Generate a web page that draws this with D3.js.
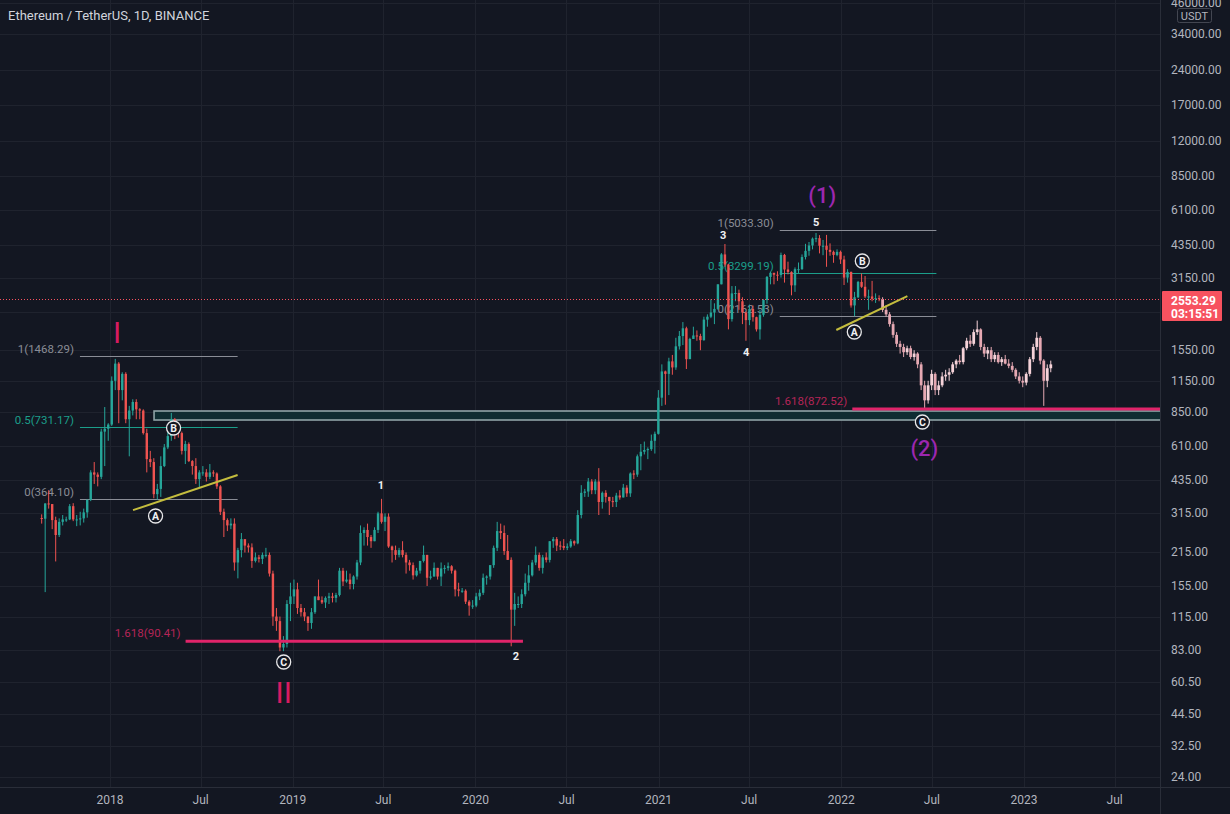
<!DOCTYPE html>
<html><head><meta charset="utf-8">
<script src="https://cdn.jsdelivr.net/npm/d3@7"></script>
<style>html,body{margin:0;padding:0;background:#131722;overflow:hidden}</style>
</head><body><svg id="c" width="1230" height="814"></svg>
<script>
// ---------------- DATA ----------------
// Weekly candles ETH/USDT (Binance). Each entry: [high, low, close]; open = previous close.
const firstWeek = "2017-08-14";
const firstOpen = 301.13;
const weeks2017 = [
 [312,285,299],[348,146,347],[395,330,345],[345,270,295],[305,197,255],[300,250,290],[310,280,297],
 [305,290,297],[345,295,338],[348,292,297],[310,278,297],[320,280,300],[330,288,318],[360,302,360],
 [480,355,470],[520,420,460],[470,410,450],[720,440,700],[890,500,720],[760,640,750]
];
const weeks2018 = [
 [1200,740,1150],[1424,1050,1360],[1380,760,1050],[1250,950,1230],[1250,760,790],
 [900,550,860],[960,820,935],[960,790,870],[880,790,860],
 [870,680,690],[720,470,535],[580,495,520],[540,365,380],
 [420,360,400],[550,370,500],[620,495,600],[710,590,670],[840,640,790],
 [800,650,730],[740,660,690],[700,560,580],[640,510,620],
 [630,520,525],[530,460,500],[540,420,440],[480,405,470],
 [500,455,470],[485,430,450],[510,440,470],[480,450,465],[470,400,410],
 [415,310,320],[330,250,295],[300,265,280],[300,270,285],
 [300,180,195],[225,167,220],[260,205,245],[240,215,230],
 [235,215,226],[235,185,198],[215,195,205],[210,195,202],[215,192,210],
 [225,205,210],[215,170,175],[180,105,115],[125,100,110],
 [115,82,85],[95,82,88],[135,85,130],[160,110,140]
];
const weeks2019 = [
 [165,130,150],[160,118,125],[130,115,120],[125,110,115],[115,100,108],
 [125,102,120],[140,118,140],[165,135,135],[140,130,132],
 [140,125,138],[145,130,140],[145,132,138],[145,132,142],
 [185,140,180],[185,155,162],[180,160,165],[175,150,158],[172,150,170],
 [200,165,195],[280,190,260],[275,230,268],[285,230,250],
 [255,225,240],[275,240,268],[320,260,315],[363,285,290],
 [315,265,305],[315,225,228],[230,195,220],[230,200,210],[225,205,220],
 [240,205,210],[215,175,195],[200,180,190],[195,165,172],
 [185,170,180],[198,175,198],[230,195,210],[210,155,168],[180,165,170],
 [195,170,185],[185,165,170],[195,155,184],[190,175,185],
 [195,180,188],[190,175,180],[182,140,150],[160,140,148],
 [152,145,148],[150,130,133],[135,116,128],[135,124,128]
];
const weeks2020 = [
 [145,126,140],[150,135,145],[175,142,168],[172,157,170],[190,165,190],
 [230,185,225],[290,218,265],[285,245,260],[280,210,218],
 [255,200,200],[205,86,123],[145,105,130],[140,125,130],[150,125,143],
 [175,140,160],[190,148,172],[200,170,195],[228,190,210],
 [215,180,185],[210,175,205],[215,195,200],[240,195,240],
 [250,225,245],[250,218,230],[240,220,229],[245,220,225],[235,220,228],
 [245,225,240],[242,230,235],[325,233,310],[415,300,385],
 [400,370,390],[445,370,430],[440,380,395],[440,380,430],[490,310,352],
 [390,330,385],[395,350,370],[370,310,355],[370,335,352],
 [385,335,375],[395,360,368],[420,368,405],[415,370,383],
 [470,370,465],[480,440,460],[560,450,550],[620,480,575],[635,560,585],
 [600,535,590],[680,580,640],[700,565,685]
];
const weeks2021 = [
 [1050,680,975],[1350,900,1260],[1270,910,1230],[1440,1000,1390],[1480,1220,1310],
 [1750,1280,1610],[1870,1560,1780],[2040,1630,1920],[1950,1290,1420],
 [1750,1430,1730],[1950,1730,1790],[1880,1700,1780],[1820,1550,1710],[2150,1700,2090],
 [2200,1950,2150],[2550,2120,2240],[2450,2000,2320],[2950,2300,2950],
 [4000,2950,3950],[4372,3500,3580],[3600,1900,2100],[2900,2050,2700],[2900,2500,2710],
 [2800,2300,2500],[2600,2000,2240],[2260,1700,2080],[2420,1980,2320],
 [2400,2050,2140],[2150,1860,1900],[2300,1720,2190],[2550,2150,2530],
 [3200,2440,3170],[3330,2950,3300],[3300,2950,3240],[3350,3050,3230],[4020,3150,3930],
 [3970,3000,3410],[3680,3250,3330],[3350,2650,2920],[3480,2740,3420],
 [3650,3280,3420],[3950,3400,3850],[4380,3760,4090],[4460,3900,4310],
 [4660,4150,4610],[4868,4450,4630],[4770,3990,4300],[4550,3920,4300],[4780,3500,4130],
 [4400,3900,4050],[4100,3640,3930],[4150,3880,4050]
];
const weeks2022 = [
 [4100,3600,3760],[3900,2930,3150],[3420,3000,3330],[3340,2350,2400],[2740,2160,2600],
 [3050,2580,3020],[3280,2850,2880],[3200,2580,2620],[2800,2300,2620],
 [3050,2500,2560],[2700,2460,2580],[2650,2500,2553.29]
];
// Projected "bars pattern" (pale bars), weekly from ghostStart: [high, low, close]
const ghostStart = "2022-03-21";
const ghostBars = [
 [2600,2250,2300],[2400,2150,2200],[2250,1950,2000],[2050,1750,1800],[1850,1600,1650],
 [1700,1500,1600],[1650,1450,1520],[1620,1480,1580],[1620,1420,1450],[1550,1400,1500],
 [1520,1300,1350],[1380,1050,1100],[1150,880,950],[1150,920,1100],[1280,1050,1230],
 [1250,1000,1050],[1150,1000,1100],[1250,1080,1200],[1280,1150,1220],[1300,1150,1250],
 [1380,1230,1350],[1420,1300,1400],[1480,1350,1380],[1600,1350,1580],[1750,1550,1700],
 [1800,1600,1650],[1900,1620,1850],[2070,1800,1900],[1920,1550,1600],[1650,1450,1500],
 [1600,1420,1550],[1600,1380,1420],[1520,1380,1480],[1520,1360,1380],[1450,1330,1420],
 [1480,1350,1360],[1420,1300,1330],[1380,1250,1280],[1300,1170,1200],[1250,1120,1150],
 [1200,1080,1130],[1250,1100,1230],[1450,1200,1420],[1650,1380,1600],[1850,1550,1750],
 [1780,1350,1400],[1420,900,1150],[1350,1080,1300],[1400,1250,1350]
];
const gridPrices = [46000,34000,24000,17000,12000,8500,6100,4350,3150,2250,1550,1150,850,610,435,315,215,155,115,83,60.5,44.5,32.5,24];
const priceLabels = [46000,34000,24000,17000,12000,8500,6100,4350,3150,1550,1150,850,610,435,315,215,155,115,83,60.5,44.5,32.5,24];
const timeTicks = ["2018-01-01","2018-07-01","2019-01-01","2019-07-01","2020-01-01","2020-07-01","2021-01-01","2021-07-01","2022-01-01","2022-07-01","2023-01-01","2023-07-01"];
const lastPrice = 2553.29;
const countdown = "03:15:51";
const title = "Ethereum / TetherUS, 1D, BINANCE";
const currency = "USDT";

const fibLevels = [
 {text:"1(1468.29)", price:1468.29, from:"2017-11-02", to:"2018-09-13", kind:"gray"},
 {text:"0.5(731.17)", price:731.17, from:"2017-11-02", to:"2018-09-13", kind:"teal"},
 {text:"0(364.10)", price:364.10, from:"2017-11-02", to:"2018-09-13", kind:"gray"},
 {text:"1(5033.30)", price:5033.30, from:"2021-08-31", to:"2022-07-10", kind:"gray"},
 {text:"0.5(3299.19)", price:3299.19, from:"2021-08-31", to:"2022-07-10", kind:"teal"},
 {text:"0(2162.53)", price:2162.53, from:"2021-08-31", to:"2022-07-10", kind:"gray"}
];
const extLevels = [
 {text:"1.618(90.41)", price:90.41, from:"2018-06-01", to:"2020-04-05"},
 {text:"1.618(872.52)", price:872.52, from:"2022-01-23", to:null}
];
const zoneBox = {from:"2018-03-30", top:856, bottom:784};
const trendLines = [
 {d1:"2018-02-16", p1:325, d2:"2018-09-13", p2:458},
 {d1:"2021-12-22", p1:1888, d2:"2022-05-13", p2:2631}
];
const circleLabels = [
 {t:"A", d:"2018-04-02", p:307}, {t:"B", d:"2018-05-08", p:725}, {t:"C", d:"2018-12-14", p:73.8},
 {t:"A", d:"2022-01-27", p:1852}, {t:"B", d:"2022-02-12", p:3704}, {t:"C", d:"2022-06-12", p:769}
];
const waveNumbers = [
 {t:"1", d:"2019-06-26", p:415}, {t:"2", d:"2020-03-22", p:78.2}, {t:"3", d:"2021-05-10", p:4780},
 {t:"4", d:"2021-06-25", p:1522}, {t:"5", d:"2021-11-12", p:5422}
];
const romanLabels = [ {t:"I", d:"2018-01-15", p:1852}, {t:"II", d:"2018-12-14", p:55} ];
const degreeLabels = [ {t:"(1)", d:"2021-11-24", p:7060}, {t:"(2)", d:"2022-06-16", p:596} ];

// ---------------- CHART ----------------
const W = 1230, H = 814, plotR = 1160, plotB = 787;
const svg = d3.select("#c");
const parse = s => new Date(s + "T00:00:00Z");
const x = d3.scaleUtc().domain([parse("2018-01-01"), parse("2023-01-01")]).range([110, 1024]);
const y = d3.scaleLog().domain([24, 34000]).range([777, 34]);
const DAY = 864e5;

function build(list, start, open0) {
  const out = []; let o = open0; const t0 = parse(start).getTime();
  list.forEach((r, i) => { out.push({t: new Date(t0 + (i * 7 + 3.5) * DAY), o, h: r[0], l: r[1], c: r[2]}); o = r[2]; });
  return out;
}
const real = build([].concat(weeks2017, weeks2018, weeks2019, weeks2020, weeks2021, weeks2022), firstWeek, firstOpen);
const ghost = build(ghostBars, ghostStart, lastPrice);

svg.append("rect").attr("width", W).attr("height", H).attr("fill", "#131722");
svg.append("defs").append("clipPath").attr("id", "clip").append("rect").attr("width", plotR).attr("height", plotB);
const plot = svg.append("g").attr("clip-path", "url(#clip)");

// grid
plot.selectAll(".hg").data(gridPrices).join("line")
  .attr("x1", 0).attr("x2", plotR).attr("y1", d => Math.round(y(d)) + 0.5).attr("y2", d => Math.round(y(d)) + 0.5)
  .attr("stroke", "#1f232e").attr("stroke-width", 1);
plot.selectAll(".vg").data(timeTicks).join("line")
  .attr("y1", 0).attr("y2", plotB).attr("x1", d => Math.round(x(parse(d))) + 0.5).attr("x2", d => Math.round(x(parse(d))) + 0.5)
  .attr("stroke", "#1f232e").attr("stroke-width", 1);

const font = "Roboto, 'Liberation Sans', sans-serif";

// zone box
plot.append("rect").attr("x", x(parse(zoneBox.from))).attr("y", y(zoneBox.top))
  .attr("width", plotR + 10 - x(parse(zoneBox.from))).attr("height", y(zoneBox.bottom) - y(zoneBox.top))
  .attr("fill", "#0f2c31").attr("stroke", "#8fa3a6").attr("stroke-width", 1.6);

// fib levels
const fibColor = {gray: "#8a8d96", teal: "#1b9e8a"};
fibLevels.forEach(f => {
  const yy = Math.round(y(f.price)) + 0.5;
  plot.append("line").attr("x1", x(parse(f.from))).attr("x2", x(parse(f.to))).attr("y1", yy).attr("y2", yy)
    .attr("stroke", fibColor[f.kind]).attr("stroke-width", 1);
  plot.append("text").attr("x", x(parse(f.from)) - 6).attr("y", yy - 4).attr("text-anchor", "end")
    .attr("font-family", font).attr("font-size", 11.5).attr("fill", fibColor[f.kind]).text(f.text);
});

// candles
function drawCandles(data, upC, dnC, bw) {
  const g = plot.append("g");
  g.selectAll("line").data(data).join("line")
    .attr("x1", d => x(d.t)).attr("x2", d => x(d.t)).attr("y1", d => y(d.h)).attr("y2", d => y(d.l))
    .attr("stroke", d => d.c >= d.o ? upC : dnC).attr("stroke-width", 1);
  g.selectAll("rect").data(data).join("rect")
    .attr("x", d => x(d.t) - bw / 2).attr("width", bw)
    .attr("y", d => y(Math.max(d.o, d.c))).attr("height", d => Math.max(1, Math.abs(y(d.o) - y(d.c))))
    .attr("fill", d => d.c >= d.o ? upC : dnC);
}
drawCandles(real, "#26a69a", "#ef5350", 2.4);
drawCandles(ghost, "#f6d3d9", "#e6a9b3", 2.8);

// extension (1.618) levels
extLevels.forEach(f => {
  const yy = y(f.price);
  const x2 = f.to ? x(parse(f.to)) : plotR;
  plot.append("line").attr("x1", x(parse(f.from))).attr("x2", x2).attr("y1", yy).attr("y2", yy)
    .attr("stroke", "#e0246a").attr("stroke-width", 3);
  plot.append("text").attr("x", x(parse(f.from)) - 5).attr("y", yy - 4).attr("text-anchor", "end")
    .attr("font-family", font).attr("font-size", 11.5).attr("fill", "#b52557").text(f.text);
});

// trend lines
trendLines.forEach(t => {
  plot.append("line").attr("x1", x(parse(t.d1))).attr("y1", y(t.p1)).attr("x2", x(parse(t.d2))).attr("y2", y(t.p2))
    .attr("stroke", "#c4bd3e").attr("stroke-width", 2);
});

// last price line
plot.append("line").attr("x1", 0).attr("x2", plotR).attr("y1", Math.round(y(lastPrice)) + 0.5).attr("y2", Math.round(y(lastPrice)) + 0.5)
  .attr("stroke", "#f7525f").attr("stroke-width", 1).attr("stroke-dasharray", "1,2");

// circle labels
circleLabels.forEach(c => {
  const g = plot.append("g").attr("transform", `translate(${x(parse(c.d))},${y(c.p)})`);
  g.append("circle").attr("r", 7).attr("fill", "#131722").attr("stroke", "#e8e8ea").attr("stroke-width", 1.3);
  g.append("text").attr("text-anchor", "middle").attr("dy", 3.8).attr("font-family", font).attr("font-weight", "bold")
    .attr("font-size", 10.5).attr("fill", "#f0f0f2").text(c.t);
});
waveNumbers.forEach(c => {
  plot.append("text").attr("x", x(parse(c.d))).attr("y", y(c.p) + 4).attr("text-anchor", "middle")
    .attr("font-family", font).attr("font-weight", "bold").attr("font-size", 11).attr("fill", "#f0f0f2").text(c.t);
});
romanLabels.forEach(c => {
  plot.append("text").attr("x", x(parse(c.d))).attr("y", y(c.p) + 11).attr("text-anchor", "middle")
    .attr("font-family", font).attr("font-size", 30).attr("fill", "#d81b60").text(c.t);
});
degreeLabels.forEach(c => {
  plot.append("text").attr("x", x(parse(c.d))).attr("y", y(c.p) + 8).attr("text-anchor", "middle")
    .attr("font-family", font).attr("font-weight", "500").attr("font-size", 22).attr("fill", "#9c27b0").text(c.t);
});

// axes frame
svg.append("line").attr("x1", plotR + 0.5).attr("x2", plotR + 0.5).attr("y1", 0).attr("y2", H).attr("stroke", "#2a2e39");
svg.append("line").attr("x1", 0).attr("x2", W).attr("y1", plotB + 0.5).attr("y2", plotB + 0.5).attr("stroke", "#2a2e39");

// price axis labels
svg.selectAll(".pl").data(priceLabels).join("text")
  .attr("x", 1171).attr("y", d => y(d) + 4).attr("font-family", font).attr("font-size", 12).attr("fill", "#b2b5be")
  .text(d => d3.format(".2f")(d));
// USDT box
svg.append("rect").attr("x", 1177.5).attr("y", 8.5).attr("width", 34).attr("height", 14).attr("fill", "#131722")
  .attr("stroke", "#434651").attr("rx", 2);
svg.append("text").attr("x", 1194.5).attr("y", 19.5).attr("text-anchor", "middle").attr("font-family", font)
  .attr("font-size", 11).attr("fill", "#b2b5be").text(currency);
// last price box
const ly = y(lastPrice);
svg.append("rect").attr("x", 1162).attr("y", ly - 8).attr("width", 60).attr("height", 30).attr("fill", "#f7525f").attr("rx", 1);
svg.append("text").attr("x", 1171).attr("y", ly + 6).attr("font-family", font).attr("font-weight", "bold")
  .attr("font-size", 12).attr("fill", "#ffffff").text(d3.format(".2f")(lastPrice));
svg.append("text").attr("x", 1171).attr("y", ly + 19).attr("font-family", font).attr("font-weight", "bold")
  .attr("font-size", 12).attr("fill", "#ffffff").text(countdown);

// time axis labels
svg.selectAll(".tl").data(timeTicks).join("text")
  .attr("x", d => x(parse(d))).attr("y", 804).attr("text-anchor", "middle").attr("font-family", font)
  .attr("font-size", 12).attr("fill", "#b2b5be")
  .text(d => { const t = parse(d); return t.getUTCMonth() === 0 ? d3.utcFormat("%Y")(t) : d3.utcFormat("%b")(t); });

// title
svg.append("text").attr("x", 8).attr("y", 20).attr("font-family", font).attr("font-size", 13)
  .attr("fill", "#d1d4dc").text(title);
</script></body></html>
